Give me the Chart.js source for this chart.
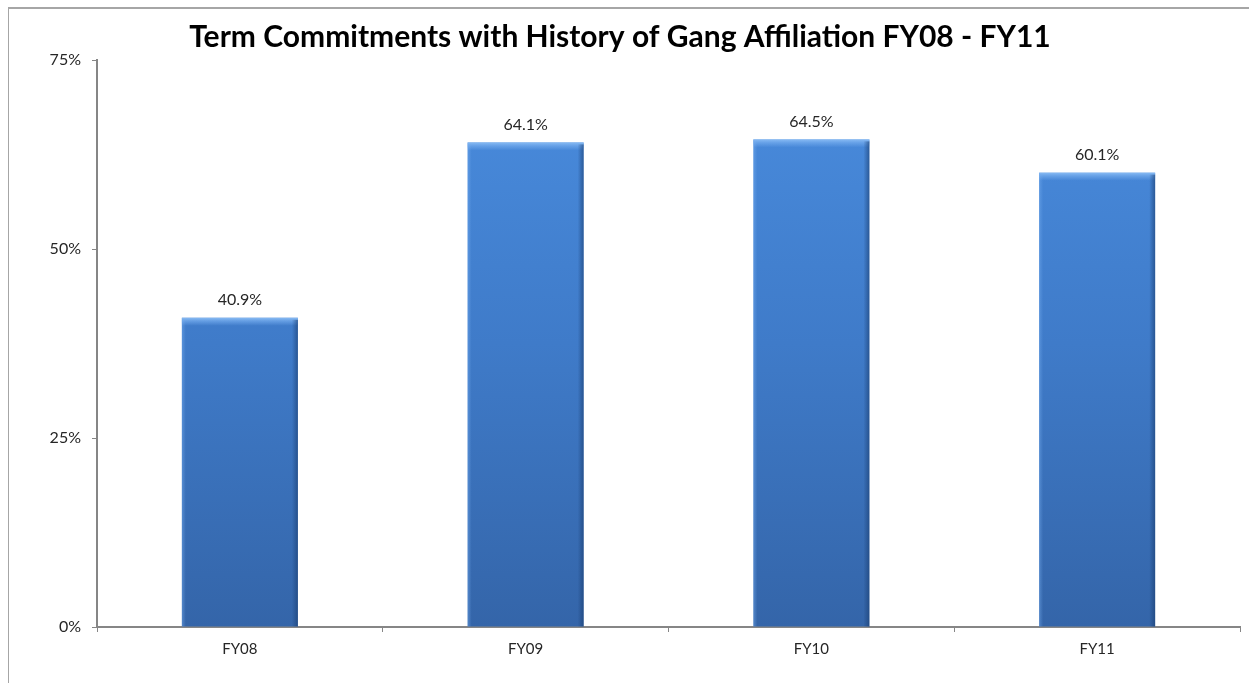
<!DOCTYPE html>
<html>
<head>
<meta charset="utf-8">
<script src="https://cdn.jsdelivr.net/npm/chart.js@4.4.1/dist/chart.umd.min.js"></script>
<style>
  html, body { margin: 0; padding: 0; background: #ffffff; overflow: hidden; }
  #wrap { position: absolute; left: 0; top: 0; width: 1249px; height: 683px; }
  #frame { position: absolute; left: 8px; top: 7px; width: 1400px; height: 800px; border: 1px solid #a6a6a6; border-width: 2px 0 0 1px; box-sizing: border-box; }
  canvas { position: absolute; left: 0; top: 0; }
</style>
</head>
<body>
<div id="wrap">
  <div id="frame"></div>
  <canvas id="c" width="1249" height="683"></canvas>
</div>
<script>
const titleText = 'Term Commitments with History of Gang Affiliation FY08 - FY11';
const categories = ['FY08', 'FY09', 'FY10', 'FY11'];
const values = [40.9, 64.1, 64.5, 60.1];
const yTicks = [0, 25, 50, 75];

const FONT = 'Lato, "Open Sans", sans-serif';

const barFill = (ctx) => {
  const chart = ctx.chart;
  const area = chart.chartArea;
  if (!area) return '#3f7dcc';
  const g = chart.ctx.createLinearGradient(0, area.top, 0, area.bottom);
  g.addColorStop(0, '#4a8ddf');
  g.addColorStop(0.5, '#3f7bc9');
  g.addColorStop(1, '#3465a9');
  return g;
};

const bevelPlugin = {
  id: 'bevel',
  afterDatasetsDraw(chart) {
    const ctx = chart.ctx;
    chart.getDatasetMeta(0).data.forEach((bar) => {
      const left = bar.x - bar.width / 2;
      const right = bar.x + bar.width / 2;
      const top = bar.y;
      const bottom = bar.base;
      ctx.save();
      let g = ctx.createLinearGradient(0, top, 0, top + 8);
      g.addColorStop(0, 'rgba(140,190,245,0.95)');
      g.addColorStop(0.5, 'rgba(120,175,240,0.55)');
      g.addColorStop(1, 'rgba(120,175,240,0)');
      ctx.fillStyle = g;
      ctx.fillRect(left, top, right - left, 8);
      g = ctx.createLinearGradient(right - 6, 0, right, 0);
      g.addColorStop(0, 'rgba(25,60,110,0)');
      g.addColorStop(1, 'rgba(25,60,110,0.6)');
      ctx.fillStyle = g;
      ctx.fillRect(right - 6, top + 2, 6, bottom - top - 2);
      g = ctx.createLinearGradient(left, 0, left + 4, 0);
      g.addColorStop(0, 'rgba(120,175,240,0.45)');
      g.addColorStop(1, 'rgba(120,175,240,0)');
      ctx.fillStyle = g;
      ctx.fillRect(left, top + 2, 4, bottom - top - 2);
      ctx.restore();
    });
  }
};

const labelPlugin = {
  id: 'valueLabels',
  afterDatasetsDraw(chart) {
    const ctx = chart.ctx;
    const ds = chart.data.datasets[0];
    ctx.save();
    ctx.font = '16px ' + FONT;
    ctx.fillStyle = '#262626';
    ctx.textAlign = 'center';
    ctx.textBaseline = 'middle';
    chart.getDatasetMeta(0).data.forEach((bar, i) => {
      ctx.fillText(ds.data[i].toFixed(1) + '%', bar.x, bar.y - 18);
    });
    ctx.restore();
  }
};

new Chart(document.getElementById('c'), {
  type: 'bar',
  data: {
    labels: categories,
    datasets: [{
      data: values,
      backgroundColor: barFill,
      borderWidth: 0,
      categoryPercentage: 1.0,
      barPercentage: 0.406
    }]
  },
  options: {
    responsive: false,
    animation: false,
    layout: { padding: { left: 0, right: 9, top: 0, bottom: 0 } },
    plugins: {
      legend: { display: false },
      tooltip: { enabled: false },
      title: {
        display: true,
        text: titleText,
        color: '#000000',
        font: { family: FONT, size: 30, weight: 'bold', lineHeight: 1.2 },
        padding: { top: 19, bottom: 5 }
      }
    },
    scales: {
      x: {
        grid: { display: true, offset: true, drawOnChartArea: false, drawTicks: true, tickLength: 5, color: '#868686' },
        border: { display: true, color: '#868686', width: 2 },
        ticks: { color: '#262626', font: { family: FONT, size: 15 }, padding: 8 },
        afterFit(s) { s.height = 56; }
      },
      y: {
        min: 0,
        max: 75,
        afterBuildTicks(s) { s.ticks = yTicks.map(v => ({ value: v })); },
        grid: { display: true, drawOnChartArea: false, drawTicks: true, tickLength: 5, color: '#868686' },
        border: { display: true, color: '#868686', width: 2 },
        ticks: { color: '#262626', font: { family: FONT, size: 16 }, padding: 11, callback: v => v + '%' },
        afterFit(s) { s.width = 97; }
      }
    }
  },
  plugins: [bevelPlugin, labelPlugin]
});
</script>
</body>
</html>
